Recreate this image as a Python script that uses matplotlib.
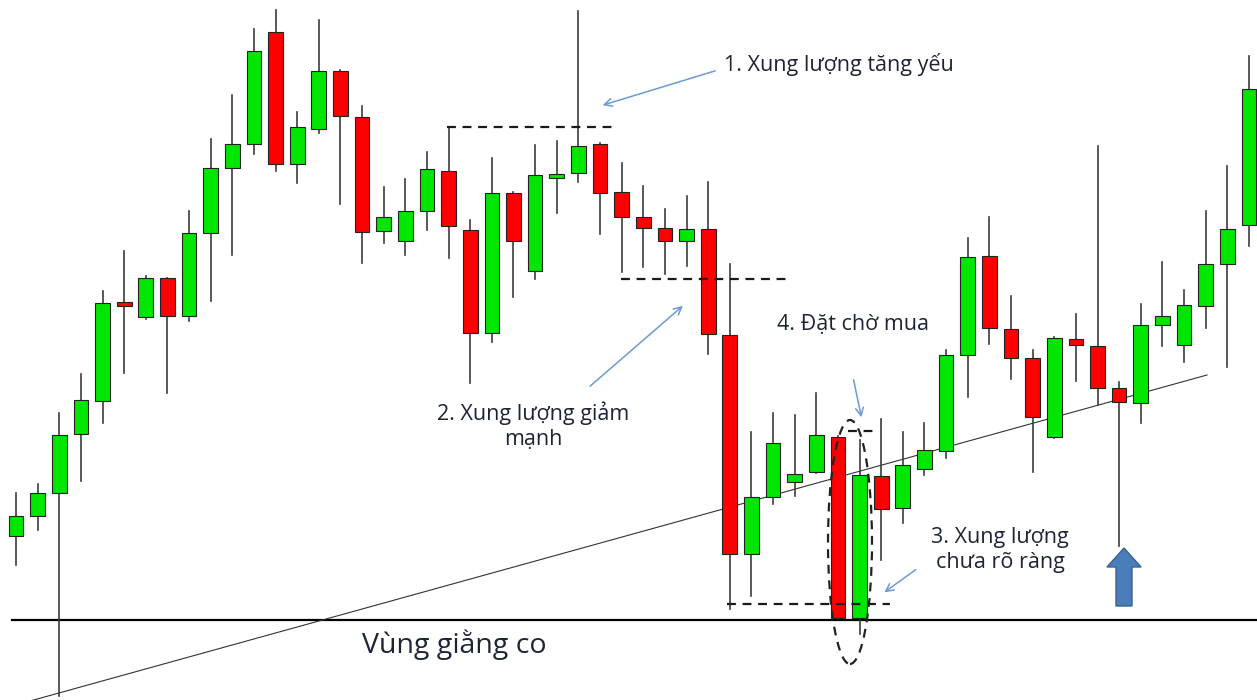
import matplotlib
matplotlib.use("Agg")
import matplotlib.pyplot as plt
from matplotlib.patches import Rectangle, Ellipse, FancyArrow

plt.rcParams["font.family"] = ["Open Sans", "Noto Sans", "DejaVu Sans"]

# candle prices
opens = [164, 184, 207, 266, 299, 398, 383, 422, 384, 467, 532, 556, 668, 536, 571,
         629, 583, 469, 459, 489, 529, 470, 367, 507, 429, 522, 527, 556, 508, 483,
         472, 459, 471, 365, 146, 203, 218, 228, 263, 82, 224, 192, 231, 249, 345,
         444, 371, 342, 263, 361, 354, 312, 297, 375, 355, 394, 436, 475]
closes = [184, 207, 265, 300, 397, 394, 422, 384, 467, 532, 556, 649, 536, 573, 629,
          584, 468, 483, 489, 531, 474, 367, 507, 459, 525, 526, 554, 507, 483, 472,
          459, 471, 366, 146, 203, 257, 226, 265, 82, 225, 191, 235, 250, 345, 443,
          372, 342, 283, 362, 355, 312, 298, 375, 384, 395, 436, 471, 611]
highs = [207, 216, 287, 326, 409, 449, 424, 422, 489, 561, 605, 671, 690, 588, 680,
         630, 594, 513, 521, 548, 573, 480, 542, 508, 555, 559, 689, 557, 537, 514,
         491, 504, 518, 436, 268, 287, 285, 307, 264, 260, 281, 268, 277, 350, 462,
         483, 404, 350, 363, 386, 554, 318, 396, 438, 410, 489, 534, 644]
lows = [135, 170, 4, 219, 277, 327, 381, 307, 379, 399, 445, 546, 529, 517, 567,
        496, 437, 457, 445, 470, 442, 317, 358, 403, 421, 487, 518, 466, 428, 433,
        426, 434, 346, 91, 104, 196, 204, 227, 81, 66, 140, 177, 225, 242, 303,
        356, 321, 228, 262, 319, 295, 154, 277, 354, 338, 372, 333, 454]

up_color = "#00e600"
down_color = "#ff0000"
wick_color = "#3c3c3c"
text_color = "#1c2535"
arrow_color = "#6b9bd2"


def at(px):
    # pixel column in the picture -> candle index
    return (px - 16) / 21.63


fig = plt.figure(figsize=(12.57, 7.0), dpi=100)
ax = fig.add_axes([0, 0, 1, 1])
ax.set_xlim(at(0), at(1257))
ax.set_ylim(0, 700)
ax.axis("off")

# support line and trend line
ax.plot([at(12), at(1257)], [80, 80], color="black", lw=1.6, zorder=1)
ax.plot([at(30), at(1207)], [-1, 325], color="#333333", lw=0.8, zorder=1)

# candles
body_w = 0.68
for i in range(len(opens)):
    o, c, h, l = opens[i], closes[i], highs[i], lows[i]
    ax.plot([i, i], [l, h], color=wick_color, lw=1.2, zorder=2)
    color = up_color if c >= o else down_color
    bottom = min(o, c)
    height = max(abs(c - o), 2)
    ax.add_patch(Rectangle((i - body_w / 2, bottom), body_w, height,
                           facecolor=color, edgecolor="#222222", lw=0.8, zorder=3))

# dashed levels
dash = (0, (4, 3))
ax.plot([at(447), at(612)], [573, 573], color="#1a1a1a", lw=1.6, ls=dash, zorder=4)
ax.plot([at(621), at(787)], [421, 421], color="#1a1a1a", lw=1.6, ls=dash, zorder=4)
ax.plot([at(727), at(890)], [96, 96], color="#1a1a1a", lw=1.6, ls=dash, zorder=4)
ax.plot([at(848), at(874)], [269, 269], color="#1a1a1a", lw=1.6, ls=dash, zorder=4)

ax.add_patch(Ellipse((at(850), 158), at(894) - at(850), 244, fill=False,
                     edgecolor="#222222", lw=1.6, ls=(0, (4, 3)), zorder=5))

# thin annotation arrows
arrows = [
    ((at(718), 630), (at(600), 594)),
    ((at(588), 312), (at(685), 396)),
    ((at(918), 132), (at(882), 106)),
    ((at(853), 323), (at(862), 280)),
]
for start, end in arrows:
    ax.annotate("", xy=end, xytext=start,
                arrowprops=dict(arrowstyle="->", color=arrow_color, lw=1.1,
                                mutation_scale=14), zorder=6)

# big blue up arrow
ax.add_patch(FancyArrow(at(1124), 94, 0, 58, width=at(1132) - at(1116),
                        head_width=at(1141) - at(1107), head_length=19,
                        length_includes_head=True, facecolor="#4a7ebb",
                        edgecolor="#3a6190", lw=1, zorder=6))

# labels
fs = 15.5
ax.text(at(724), 635, "1. Xung lượng tăng yếu", fontsize=fs, color=text_color,
        ha="left", va="center")
ax.text(at(533), 274, "2. Xung lượng giảm\nmạnh", fontsize=fs, color=text_color,
        ha="center", va="center", linespacing=1.25)
ax.text(at(777), 375, "4. Đặt chờ mua", fontsize=fs, color=text_color,
        ha="left", va="center")
ax.text(at(1000), 150, "3. Xung lượng\nchưa rõ ràng", fontsize=fs, color=text_color,
        ha="center", va="center", linespacing=1.25)
ax.text(at(362), 55, "Vùng giằng co", fontsize=20.5, color=text_color,
        ha="left", va="center")

fig.savefig("out.png", dpi=100)
